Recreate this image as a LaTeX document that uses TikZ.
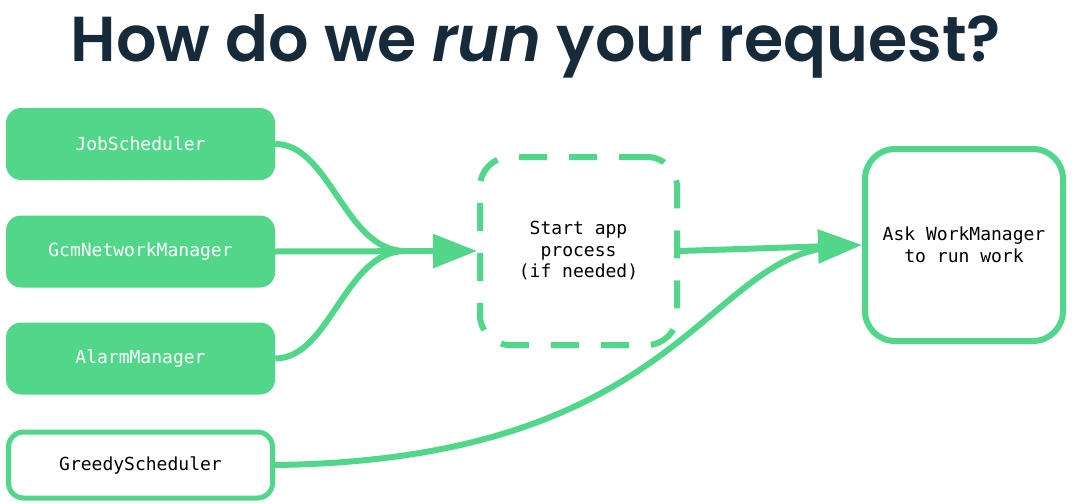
\documentclass[tikz,border=0pt]{standalone}
\usepackage{fontspec}
\setmainfont{Poppins}
\setmonofont{DejaVu Sans Mono}
\newfontfamily\headfont{Poppins SemiBold}[ItalicFont={Poppins SemiBold Italic}]
\usetikzlibrary{arrows.meta}
\definecolor{leaf}{RGB}{82,214,138}
\definecolor{ink}{RGB}{22,42,58}
\tikzset{
  srcbox/.style={rounded corners=15pt, minimum width=269pt, minimum height=72pt,
    inner sep=0pt, font=\ttfamily\fontsize{18}{21}\selectfont},
  filledbox/.style={srcbox, fill=leaf, text=white},
  outlinebox/.style={srcbox, draw=leaf, line width=5pt, fill=white, text=black,
    minimum width=264pt, minimum height=66pt},
  stagebox/.style={rounded corners=30pt, line width=6pt, draw=leaf, inner sep=0pt,
    align=center, font=\ttfamily\fontsize{18}{21.5}\selectfont, text=black},
  flow/.style={draw=leaf, line width=6pt},
  flowarrow/.style={flow, -{Triangle[length=44pt,width=33pt]}},
}
\begin{document}
\begin{tikzpicture}[x=1pt,y=-1pt]
  \useasboundingbox (0,0) rectangle (1075,503);
  \fill[white] (0,0) rectangle (1075,503);

  % heading
  \node[anchor=base, text=ink, font=\headfont\fontsize{63.5}{70}\selectfont] (title)
    at (536,62) {How do we \textit{run} your request?};

  % schedulers on the left
  \node[filledbox] (job) at (140.5,144) {JobScheduler};
  \node[filledbox] (gcm) at (140.5,251.5) {GcmNetworkManager};
  \node[filledbox] (alarm) at (140.5,358.5) {AlarmManager};
  \node[outlinebox] (greedy) at (140.5,465) {GreedyScheduler};

  % middle and right stages
  \node[stagebox, dashed, dash pattern=on 28pt off 22pt,
        minimum width=197pt, minimum height=188pt] (start) at (578.5,251)
    {Start app\\process\\(if needed)};
  \node[stagebox, minimum width=198pt, minimum height=192pt] (ask) at (964,245)
    {Ask WorkManager\\to run work};

  % converging connectors
  \coordinate (merge) at (405,251);
  \coordinate (join) at (835,247);
  \draw[flow] (job.east) .. controls (330,144) and (345,251) .. (merge);
  \draw[flow] (alarm.east) .. controls (330,358.5) and (345,251) .. (merge);
  \draw[flowarrow] (gcm.east) -- (start.west);
  \draw[flowarrow] (start.east) -- (ask.west);
  \draw[flow] (greedy.east) .. controls (680,460) and (705,255) .. (join);
\end{tikzpicture}
\end{document}
